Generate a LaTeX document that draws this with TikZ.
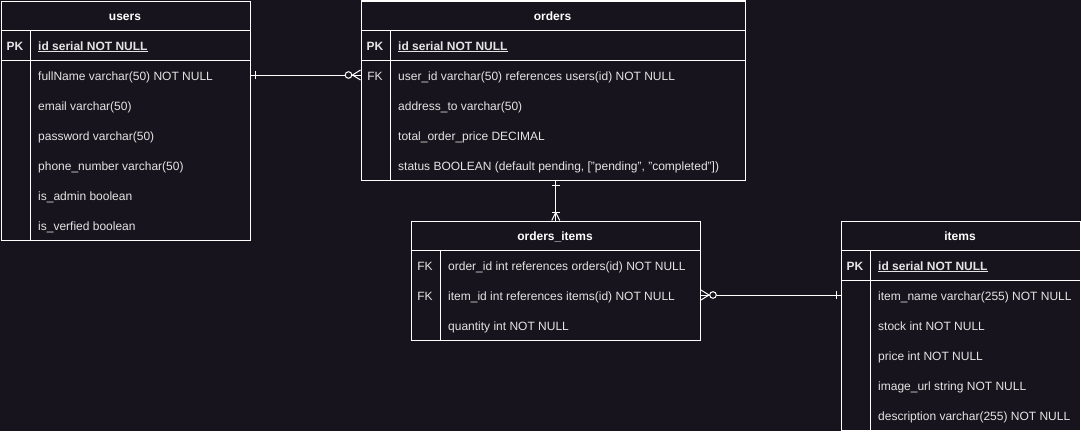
\documentclass[tikz,border=0pt]{standalone}
\usepackage{fontspec}
\setmainfont{Liberation Sans}
\usetikzlibrary{calc}

\definecolor{canvas}{RGB}{24,20,29}
\definecolor{rowtext}{RGB}{228,228,228}

\tikzset{
    tbl/.style={draw=white, line width=1pt, fill=canvas, anchor=north west, inner sep=0pt},
    rule/.style={draw=white, line width=1pt},
    link/.style={draw=white, line width=1pt},
    txt/.style={inner sep=0pt, text height=10pt, text depth=0pt},
    head/.style={txt, font=\fontsize{12}{14}\selectfont\bfseries, text=white},
    field/.style={txt, font=\fontsize{12}{14}\selectfont, text=rowtext, anchor=west},
    idfield/.style={field, font=\fontsize{12}{14}\selectfont\bfseries},
    pk/.style={txt, font=\fontsize{12}{14}\selectfont\bfseries, text=rowtext},
    fk/.style={txt, font=\fontsize{12}{14}\selectfont, text=rowtext}
}

\begin{document}
\begin{tikzpicture}[x=1pt, y=-1pt]
    \fill [canvas] (0,0) rectangle (1081,431);
    \useasboundingbox (0,0) rectangle (1081,431);

    % users
    \node[tbl, minimum width=249.5pt, minimum height=239.5pt] (users) at (0.5,0.5) {};
    \draw [rule] (0.5,30) -- (250,30);
    \draw [rule] (0.5,60) -- (250,60);
    \draw [rule] (30,30) -- (30,240);
    \node[head] (users-title) at (125,15) {users};
    \node[pk] (users-pk) at (15,45) {PK};
    \node[idfield] (users-id) at (38,45) {\underline{id serial NOT NULL}};
    \node[field] (users-fullname) at (38,75) {fullName varchar(50) NOT NULL};
    \node[field] (users-email) at (38,105) {email varchar(50)};
    \node[field] (users-password) at (38,135) {password varchar(50)};
    \node[field] (users-phone) at (38,165) {phone\_number varchar(50)};
    \node[field] (users-admin) at (38,195) {is\_admin boolean};
    \node[field] (users-verified) at (38,225) {is\_verfied boolean};

    % orders
    \node[tbl, minimum width=384.5pt, minimum height=179.5pt] (orders) at (360.5,0.5) {};
    \draw [rule] (360.5,30) -- (745,30);
    \draw [rule] (360.5,60) -- (745,60);
    \draw [rule] (390,30) -- (390,180);
    \node[head] (orders-title) at (552.5,15) {orders};
    \node[pk] (orders-pk) at (375,45) {PK};
    \node[idfield] (orders-id) at (398,45) {\underline{id serial NOT NULL}};
    \node[fk] (orders-fk) at (375,75) {FK};
    \node[field] (orders-userid) at (398,75) {user\_id varchar(50) references users(id) NOT NULL};
    \node[field] (orders-address) at (398,105) {address\_to varchar(50)};
    \node[field] (orders-total) at (398,135) {total\_order\_price DECIMAL};
    \node[field] (orders-status) at (398,165) {status BOOLEAN (default pending, ["pending", "completed"])};

    % orders_items
    \node[tbl, minimum width=289.5pt, minimum height=119.5pt] (orders-items) at (410.5,220.5) {};
    \draw [rule] (410.5,250) -- (700,250);
    \draw [rule] (440,250) -- (440,340);
    \node[head] (oi-title) at (555,235) {orders\_items};
    \node[fk] (oi-fk1) at (425,265) {FK};
    \node[field] (oi-orderid) at (448,265) {order\_id int references orders(id) NOT NULL};
    \node[fk] (oi-fk2) at (425,295) {FK};
    \node[field] (oi-itemid) at (448,295) {item\_id int references items(id) NOT NULL};
    \node[field] (oi-quantity) at (448,325) {quantity int NOT NULL};

    % items
    \node[tbl, minimum width=239.5pt, minimum height=209.5pt] (items) at (840.5,220.5) {};
    \draw [rule] (840.5,250) -- (1080,250);
    \draw [rule] (840.5,280) -- (1080,280);
    \draw [rule] (870,250) -- (870,430);
    \node[head] (items-title) at (960,235) {items};
    \node[pk] (items-pk) at (855,265) {PK};
    \node[idfield] (items-id) at (878,265) {\underline{id serial NOT NULL}};
    \node[field] (items-name) at (878,295) {item\_name varchar(255) NOT NULL};
    \node[field] (items-stock) at (878,325) {stock int NOT NULL};
    \node[field] (items-price) at (878,355) {price int NOT NULL};
    \node[field] (items-image) at (878,385) {image\_url string NOT NULL};
    \node[field] (items-desc) at (878,415) {description varchar(255) NOT NULL};

    % users -- orders
    \coordinate (uo-a) at (users.east |- users-fullname);
    \coordinate (uo-b) at (orders.west |- orders-userid);
    \draw [link] (uo-a) -- (uo-b);
    \draw [link] ($(uo-a)+(4,-4)$) -- ($(uo-a)+(4,4)$);
    \draw [link] ($(uo-b)+(-8,0)$) -- ($(uo-b)+(0,-5)$);
    \draw [link] ($(uo-b)+(-8,0)$) -- ($(uo-b)+(0,5)$);
    \draw [link, fill=canvas] ($(uo-b)+(-12,0)$) circle (3.3pt);

    % orders -- orders_items
    \coordinate (ooi-b) at (orders-items.north);
    \coordinate (ooi-a) at (orders.south -| ooi-b);
    \draw [link] (ooi-a) -- (ooi-b);
    \draw [link] ($(ooi-a)+(-4,4)$) -- ($(ooi-a)+(4,4)$);
    \draw [link] ($(ooi-b)+(-4,-8)$) -- ($(ooi-b)+(4,-8)$);
    \draw [link] ($(ooi-b)+(0,-8)$) -- ($(ooi-b)+(-4,0)$);
    \draw [link] ($(ooi-b)+(0,-8)$) -- ($(ooi-b)+(4,0)$);

    % orders_items -- items
    \coordinate (oii-a) at (orders-items.east |- oi-itemid);
    \coordinate (oii-b) at (items.west |- items-name);
    \draw [link] (oii-a) -- (oii-b);
    \draw [link] ($(oii-a)+(8,0)$) -- ($(oii-a)+(0,-5)$);
    \draw [link] ($(oii-a)+(8,0)$) -- ($(oii-a)+(0,5)$);
    \draw [link, fill=canvas] ($(oii-a)+(12,0)$) circle (3.3pt);
    \draw [link] ($(oii-b)+(-4,-4)$) -- ($(oii-b)+(-4,4)$);
\end{tikzpicture}
\end{document}
